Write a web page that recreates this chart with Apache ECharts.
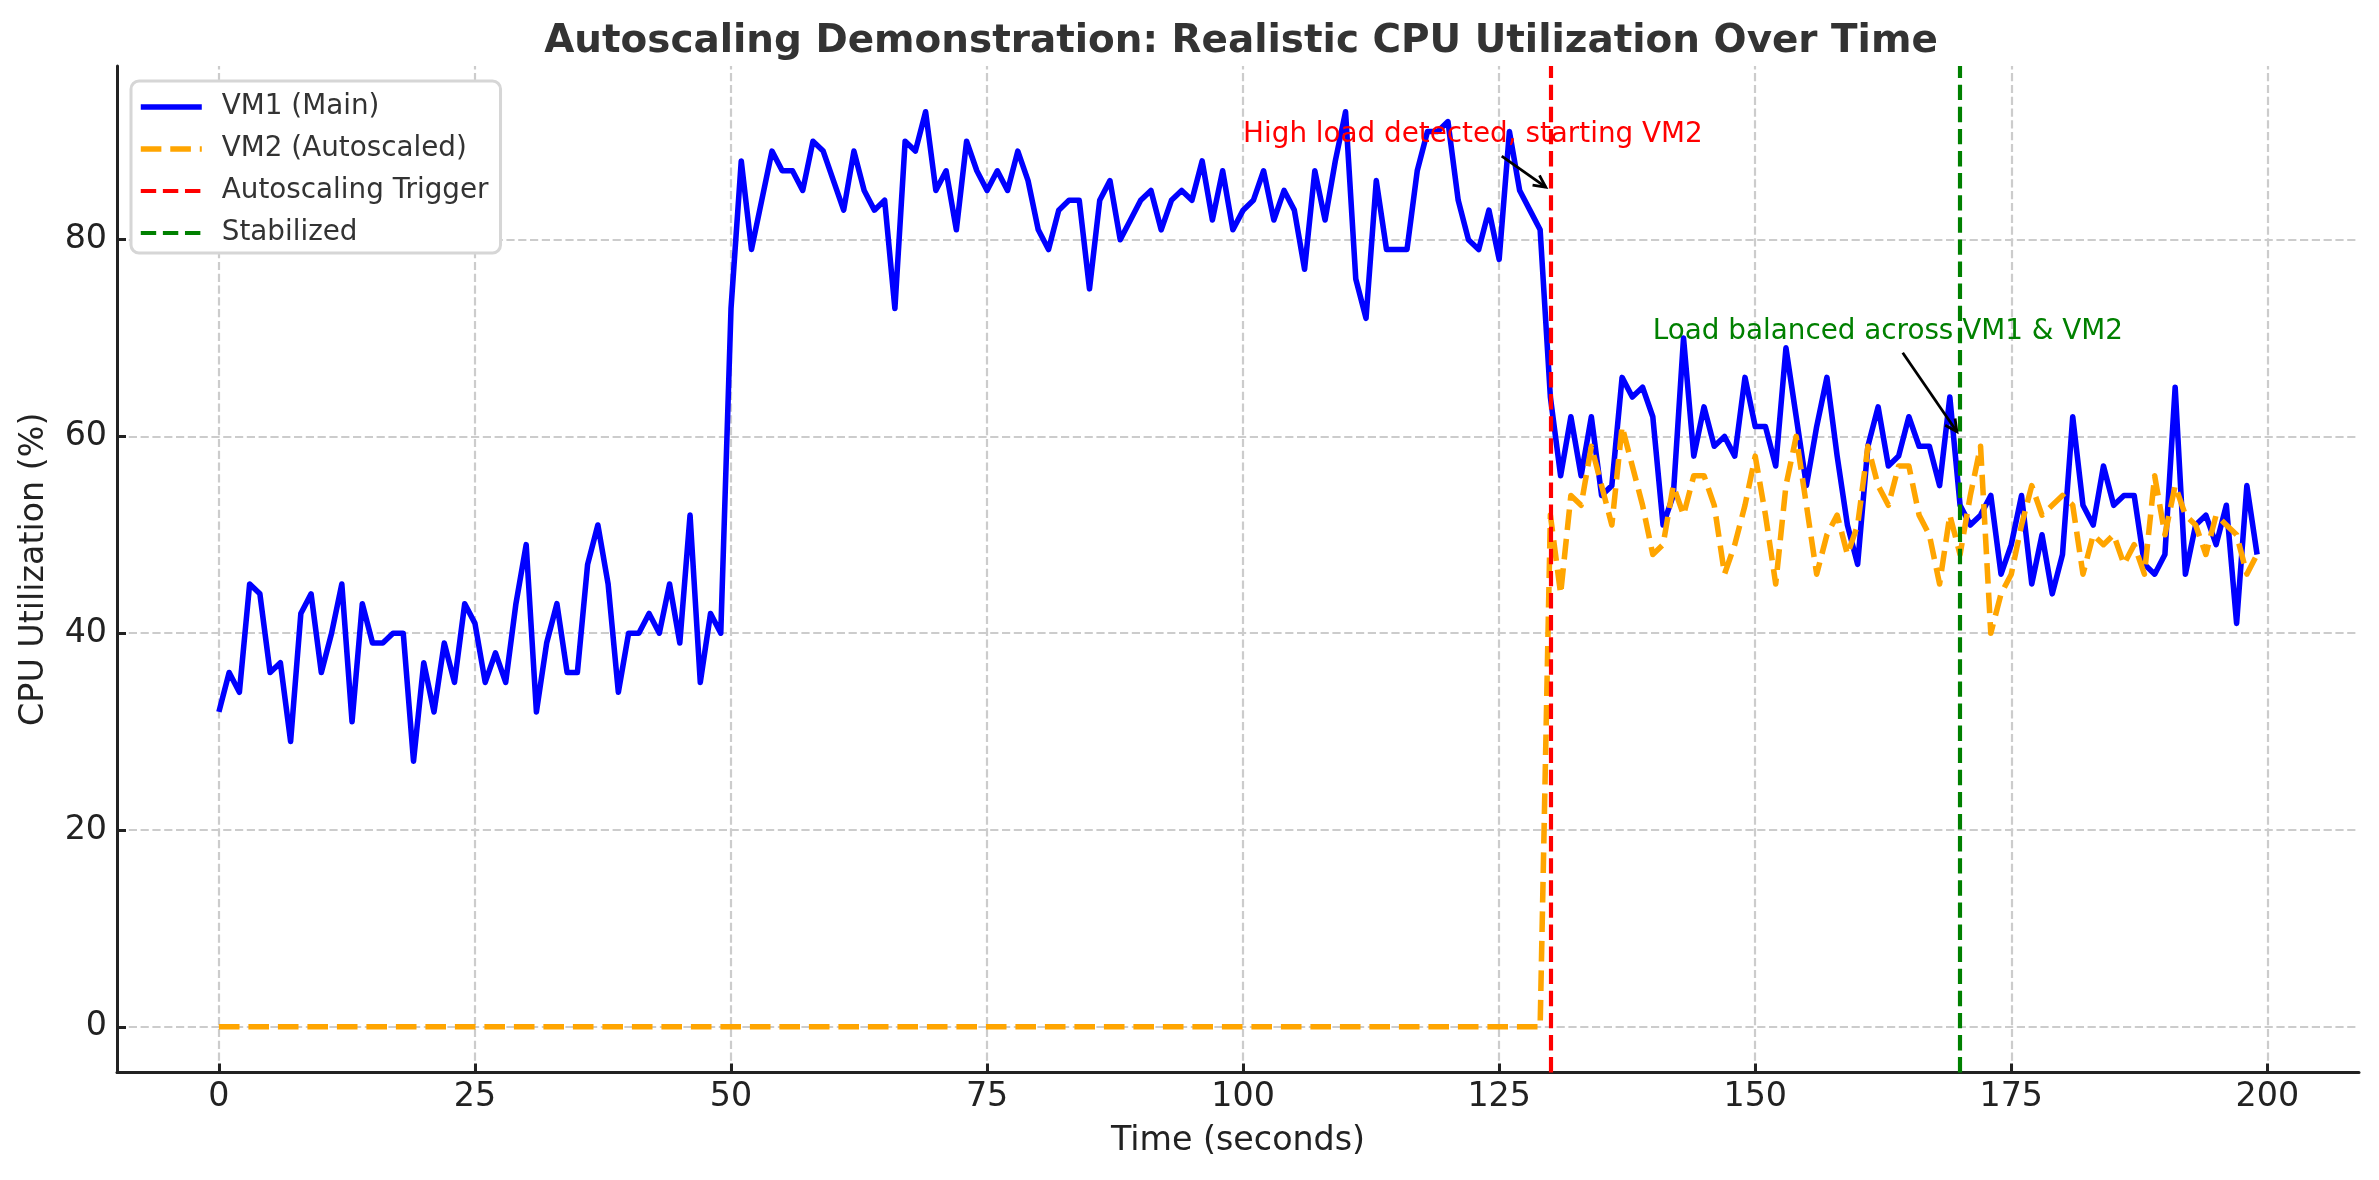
<!DOCTYPE html>
<html><head><meta charset="utf-8">
<script src="https://cdn.jsdelivr.net/npm/echarts@6/dist/echarts.min.js"></script>
<style>html,body{margin:0;padding:0;background:#fff}#chart{width:2379px;height:1180px}</style>
</head><body><div id="chart"></div>
<script>
// ---- data ----
const vm1Values = [
  32,36,34,45,44,36,37,29,42,44,36,40,45,31,43,39,39,40,40,27,
  37,32,39,35,43,41,35,38,35,43,49,32,39,43,36,36,47,51,45,34,
  40,40,42,40,45,39,52,35,42,40,73,88,79,84,89,87,87,85,90,89,
  86,83,89,85,83,84,73,90,89,93,85,87,81,90,87,85,87,85,89,86,
  81,79,83,84,84,75,84,86,80,82,84,85,81,84,85,84,88,82,87,81,
  83,84,87,82,85,83,77,87,82,88,93,76,72,86,79,79,79,87,91,91,
  92,84,80,79,83,78,91,85,83,81,64,56,62,56,62,54,55,66,64,65,
  62,51,54,70,58,63,59,60,58,66,61,61,57,69,62,55,61,66,58,51,
  47,59,63,57,58,62,59,59,55,64,53,51,52,54,46,49,54,45,50,44,
  48,62,53,51,57,53,54,54,47,46,48,65,46,51,52,49,53,41,55,48
];
const vm2Values = [
  0,0,0,0,0,0,0,0,0,0,
  0,0,0,0,0,0,0,0,0,0,
  0,0,0,0,0,0,0,0,0,0,
  0,0,0,0,0,0,0,0,0,0,
  0,0,0,0,0,0,0,0,0,0,
  0,0,0,0,0,0,0,0,0,0,
  0,0,0,0,0,0,0,0,0,0,
  0,0,0,0,0,0,0,0,0,0,
  0,0,0,0,0,0,0,0,0,0,
  0,0,0,0,0,0,0,0,0,0,
  0,0,0,0,0,0,0,0,0,0,
  0,0,0,0,0,0,0,0,0,0,
  0,0,0,0,0,0,0,0,0,0,
  52,44,54,53,59,55,51,61,57,53,48,49,55,52,56,56,53,46,49,53,
  58,52,45,55,60,53,46,50,52,48,51,59,55,53,57,57,52,50,45,52,
  48,54,59,40,44,46,51,55,52,53,54,53,46,50,49,50,47,49,46,56,
  50,55,52,51,48,52,51,50,46,48
];
const seriesNames = ['VM1 (Main)', 'VM2 (Autoscaled)', 'Autoscaling Trigger', 'Stabilized'];
const triggerTime = 130;
const stableTime = 170;
const xTicks = [0, 25, 50, 75, 100, 125, 150, 175, 200];
const yTicks = [0, 20, 40, 60, 80];
const xRange = [-9.95, 208.95];
const yRange = [-4.65, 97.65];
const annoTexts = ['High load detected, starting VM2', 'Load balanced across VM1 & VM2'];
const annoTextAt = [[100, 90], [140, 70]];
const annoArrowFrom = [[125.25, 88.5], [164.4, 68.5]];
const annoArrowTo = [[130, 85], [170, 60]];
const annoColors = ['#ff0000', '#008000'];

// ---- chart ----
const FONT = '"DejaVu Sans", Verdana, sans-serif';
const chart = echarts.init(document.getElementById('chart'), null, {renderer: 'canvas'});
const toPairs = arr => arr.map((v, i) => [i, v]);
const gridStyle = {color: '#cccccc', width: 2.2, type: [8.2, 3.6]};

const option = {
  animation: false,
  backgroundColor: '#ffffff',
  title: {
    text: 'Autoscaling Demonstration: Realistic CPU Utilization Over Time',
    left: 1236, top: 17, textAlign: 'center',
    textStyle: {fontFamily: FONT, fontSize: 38.9, fontWeight: 'bold', color: '#333333'}
  },
  grid: {left: 117, top: 66, width: 2242, height: 1006.5, containLabel: false},
  legend: {
    data: seriesNames, orient: 'vertical', left: 131, top: 81, z: 20,
    itemWidth: 61, itemHeight: 14, itemGap: 12, padding: [11, 12, 5, 7],
    backgroundColor: '#ffffff', borderColor: '#d6d6d6', borderWidth: 3, borderRadius: 8,
    selectedMode: false,
    lineStyle: {width: 'inherit', type: 'inherit', color: 'inherit'},
    itemStyle: {color: 'rgba(0,0,0,0)', borderColor: 'rgba(0,0,0,0)', borderWidth: 0, opacity: 0},
    textStyle: {fontFamily: FONT, fontSize: 27.8, color: '#333333', lineHeight: 30, padding: [0, 0, 0, 15]}
  },
  xAxis: {
    type: 'value', min: xRange[0], max: xRange[1],
    name: 'Time (seconds)', nameLocation: 'middle', nameGap: 52,
    nameTextStyle: {fontFamily: FONT, fontSize: 33.3, color: '#222222'},
    axisLine: {show: true, onZero: false, lineStyle: {color: '#222222', width: 3}},
    axisTick: {show: true, inside: true, length: 9, customValues: xTicks, lineStyle: {color: '#222222', width: 3}},
    axisLabel: {show: true, margin: 8, customValues: xTicks, fontFamily: FONT, fontSize: 33.3, color: '#222222'},
    splitLine: {show: false}
  },
  yAxis: {
    type: 'value', min: yRange[0], max: yRange[1],
    name: 'CPU Utilization (%)', nameLocation: 'middle', nameGap: 66,
    nameTextStyle: {fontFamily: FONT, fontSize: 33.3, color: '#222222'},
    axisLine: {show: true, onZero: false, lineStyle: {color: '#222222', width: 3}},
    axisTick: {show: true, inside: true, length: 9, customValues: yTicks, lineStyle: {color: '#222222', width: 3}},
    axisLabel: {show: true, margin: 10, customValues: yTicks, fontFamily: FONT, fontSize: 33.3, color: '#222222'},
    splitLine: {show: false}
  },
  series: [
    {
      name: '_grid', type: 'line', data: [], silent: true, z: 0,
      markLine: {
        z: 0, silent: true, symbol: 'none', animation: false, label: {show: false},
        lineStyle: gridStyle, emphasis: {disabled: true},
        data: xTicks.map(t => ({xAxis: t})).concat(yTicks.map(t => ({yAxis: t})))
      }
    },
    {
      name: seriesNames[0], type: 'line', data: toPairs(vm1Values), symbol: 'none', z: 3,
      lineStyle: {color: '#0000ff', width: 5.56, join: 'round'}, itemStyle: {color: '#0000ff'}
    },
    {
      name: seriesNames[1], type: 'line', data: toPairs(vm2Values), symbol: 'none', z: 4,
      lineStyle: {color: '#ffa500', width: 5.56, type: [20.6, 8.9], join: 'round'}, itemStyle: {color: '#ffa500'}
    },
    {
      name: seriesNames[2], type: 'line', data: [], symbol: 'none', z: 5,
      lineStyle: {color: '#ff0000', width: 4.17, type: [15.4, 6.7]}, itemStyle: {color: '#ff0000'},
      markLine: {
        z: 6, silent: true, symbol: 'none', animation: false, label: {show: false},
        lineStyle: {color: '#ff0000', width: 4.17, type: [15.4, 6.7]}, emphasis: {disabled: true},
        data: [{xAxis: triggerTime}]
      }
    },
    {
      name: seriesNames[3], type: 'line', data: [], symbol: 'none', z: 5,
      lineStyle: {color: '#008000', width: 4.17, type: [15.4, 6.7]}, itemStyle: {color: '#008000'},
      markLine: {
        z: 6, silent: true, symbol: 'none', animation: false, label: {show: false},
        lineStyle: {color: '#008000', width: 4.17, type: [15.4, 6.7]}, emphasis: {disabled: true},
        data: [{xAxis: stableTime}]
      }
    }
  ]
};
chart.setOption(option);

// annotations (text + arrows) placed through the chart's own scales
const graphics = [];
for (let k = 0; k < annoTexts.length; k++) {
  const pt = chart.convertToPixel({gridIndex: 0}, annoTextAt[k]);
  graphics.push({
    type: 'text', x: pt[0], y: pt[1] - 6.6, z: 100,
    style: {text: annoTexts[k], fill: annoColors[k], font: '27.8px ' + FONT, align: 'left', verticalAlign: 'middle'}
  });
  const a = chart.convertToPixel({gridIndex: 0}, annoArrowFrom[k]);
  const b = chart.convertToPixel({gridIndex: 0}, annoArrowTo[k]);
  const dx = b[0] - a[0], dy = b[1] - a[1];
  const len = Math.sqrt(dx * dx + dy * dy);
  const ux = dx / len, uy = dy / len;
  const tip = [b[0] - ux * 5.6, b[1] - uy * 5.6];
  const hl = 12, hw = 6;
  const base = [tip[0] - ux * hl, tip[1] - uy * hl];
  graphics.push({
    type: 'line', z: 100,
    shape: {x1: a[0], y1: a[1], x2: tip[0], y2: tip[1]},
    style: {stroke: '#000000', lineWidth: 2.78}
  });
  graphics.push({
    type: 'polyline', z: 100,
    shape: {points: [[base[0] - uy * hw, base[1] + ux * hw], tip, [base[0] + uy * hw, base[1] - ux * hw]]},
    style: {stroke: '#000000', lineWidth: 2.78, fill: null}
  });
}
chart.setOption({graphic: graphics});
</script>
</body></html>
